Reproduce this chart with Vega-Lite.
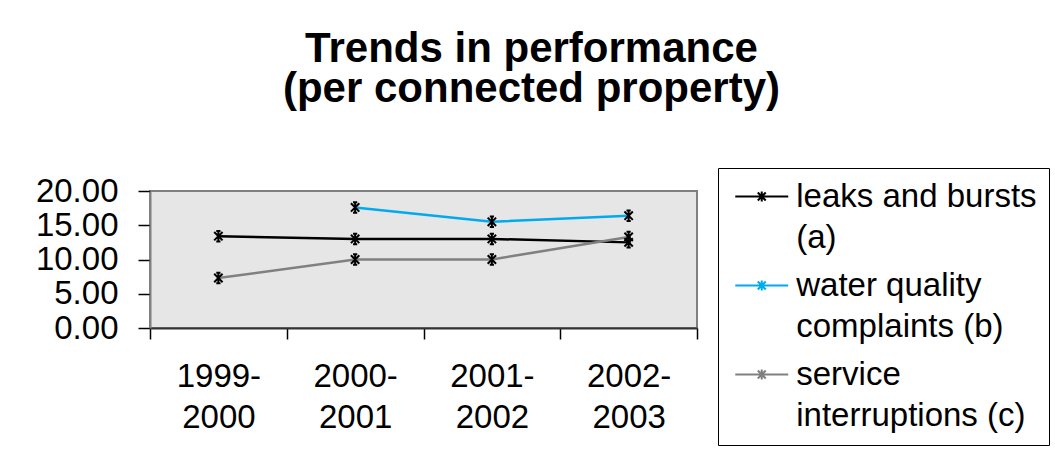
{
  "$schema": "https://vega.github.io/schema/vega-lite/v6.json",
  "width": 547,
  "height": 137,
  "autosize": {"type": "none"},
  "padding": {"left": 150, "top": 191, "right": 358, "bottom": 136},
  "background": "white",
  "title": {
    "text": ["Trends in performance", "(per connected property)"],
    "font": "Liberation Sans",
    "fontSize": 42,
    "fontWeight": "bold",
    "lineHeight": 40,
    "color": "black",
    "anchor": "middle",
    "frame": "group",
    "dx": 108,
    "offset": 57
  },
  "data": {
    "values": [
      {"year": "1999-2000", "series": "leaks and bursts (a)", "value": 13.4},
      {"year": "2000-2001", "series": "leaks and bursts (a)", "value": 13.0},
      {"year": "2001-2002", "series": "leaks and bursts (a)", "value": 13.0},
      {"year": "2002-2003", "series": "leaks and bursts (a)", "value": 12.5},
      {"year": "2000-2001", "series": "water quality complaints (b)", "value": 17.6},
      {"year": "2001-2002", "series": "water quality complaints (b)", "value": 15.5},
      {"year": "2002-2003", "series": "water quality complaints (b)", "value": 16.4},
      {"year": "1999-2000", "series": "service interruptions (c)", "value": 7.3},
      {"year": "2000-2001", "series": "service interruptions (c)", "value": 10.0},
      {"year": "2001-2002", "series": "service interruptions (c)", "value": 10.0},
      {"year": "2002-2003", "series": "service interruptions (c)", "value": 13.3}
    ]
  },
  "encoding": {
    "x": {
      "field": "year",
      "type": "ordinal",
      "sort": null,
      "bandPosition": 0.5,
      "scale": {"type": "band", "paddingInner": 0, "paddingOuter": 0},
      "axis": {
        "title": null,
        "tickBand": "extent",
        "labelAngle": 0,
        "labelExpr": "[substring(datum.label, 0, 5), substring(datum.label, 5)]",
        "labelFont": "Liberation Sans",
        "labelFontSize": 33,
        "labelLineHeight": 41,
        "labelColor": "black",
        "labelBaseline": "top",
        "labelPadding": 21,
        "tickSize": 11,
        "tickColor": "black",
        "tickWidth": 1.5,
        "domainColor": "#333333",
        "domainWidth": 2,
        "grid": false
      }
    },
    "y": {
      "field": "value",
      "type": "quantitative",
      "scale": {"domain": [0, 20], "nice": false},
      "axis": {
        "title": null,
        "values": [0, 5, 10, 15, 20],
        "format": ".2f",
        "labelFont": "Liberation Sans",
        "labelFontSize": 33,
        "labelColor": "black",
        "labelPadding": 20,
        "tickSize": 12,
        "tickColor": "black",
        "tickWidth": 1.5,
        "domainColor": "#808080",
        "domainWidth": 2,
        "grid": false
      }
    }
  },
  "layer": [
    {
      "mark": {"type": "line", "strokeWidth": 2.5},
      "encoding": {
        "color": {
          "field": "series",
          "type": "nominal",
          "sort": ["leaks and bursts (a)", "water quality complaints (b)", "service interruptions (c)"],
          "scale": {
            "domain": ["leaks and bursts (a)", "water quality complaints (b)", "service interruptions (c)"],
            "range": ["#000000", "#00AAEE", "#808080"]
          },
          "legend": {
            "title": null,
            "orient": "none",
            "legendX": 568,
            "legendY": -23,
            "strokeColor": "black",
            "fillColor": "white",
            "padding": 12,
            "symbolType": "M-2,0L2,0M0,-0.38L0,0.38M-0.3,-0.3L0.3,0.3M-0.3,0.3L0.3,-0.3",
            "symbolSize": 702,
            "symbolOffset": 15.25,
            "symbolStrokeWidth": 2,
            "labelFont": "Liberation Sans",
            "labelFontSize": 33,
            "labelColor": "black",
            "labelLimit": 400,
            "labelOffset": 18,
            "labelBaseline": "middle",
            "rowPadding": 14,
            "labelExpr": "datum.label == 'leaks and bursts (a)' ? ['leaks and bursts', '(a)'] : datum.label == 'water quality complaints (b)' ? ['water quality', 'complaints (b)'] : ['service', 'interruptions (c)']"
          }
        }
      }
    },
    {
      "mark": {
        "type": "point",
        "shape": "M0,-1L0,1M-0.8,-0.8L0.8,0.8M-0.8,0.8L0.8,-0.8M-0.4,-1L0.4,-1M-0.4,1L0.4,1",
        "filled": false,
        "stroke": "black",
        "strokeWidth": 2,
        "size": 110,
        "opacity": 1
      },
      "encoding": {}
    }
  ],
  "config": {
    "view": {"fill": "#E6E6E6", "stroke": "#808080", "strokeWidth": 2},
    "style": {"guide-label": {"lineHeight": 41}}
  }
}
